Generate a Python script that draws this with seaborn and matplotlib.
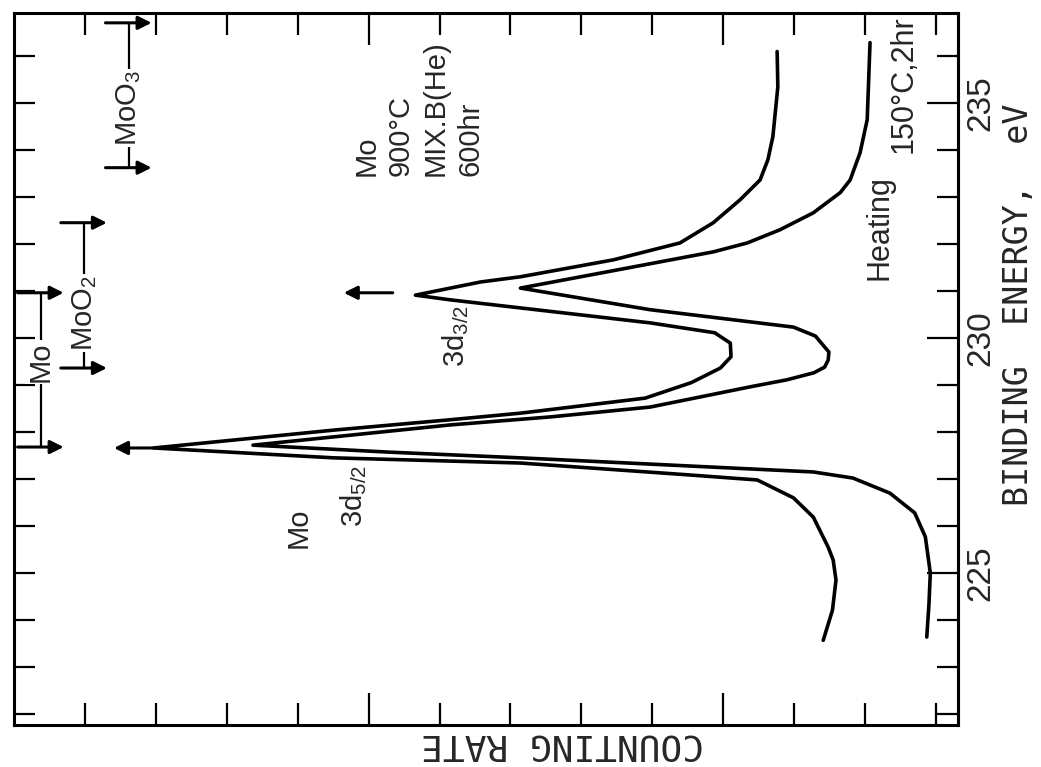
import numpy as np
import matplotlib
matplotlib.use('Agg')
import matplotlib.pyplot as plt
import seaborn as sns

# Mo, 900°C MIX.B(He) 600hr  (binding energy in eV, counting rate in arb. units)
energy_a = [223.57, 224.21, 224.85, 225.28, 225.55, 226.19, 226.60, 226.98, 227.09,
            227.34, 227.45, 227.66, 228.04, 228.26, 228.40, 228.72, 229.05, 229.36,
            229.60, 229.89, 230.11, 230.32, 230.81, 230.91, 231.19, 231.30, 231.66,
            232.02, 232.45, 232.94, 233.36, 233.79, 234.28, 235.34, 236.09]
count_a = [2.59, 2.46, 2.41, 2.45, 2.52, 2.73, 3.01, 3.52, 4.51,
           6.86, 9.49, 12.03, 9.49, 7.85, 6.86, 5.10, 4.45, 4.04,
           3.89, 3.90, 4.12, 5.03, 7.85, 8.34, 7.42, 6.86, 5.55,
           4.61, 4.14, 3.76, 3.48, 3.37, 3.30, 3.23, 3.24]

# Heating 150°C, 2hr
energy_b = [223.64, 224.32, 225.00, 225.77, 226.28, 226.70, 227.02, 227.15, 227.45,
            227.57, 227.72, 228.02, 228.15, 228.32, 228.53, 228.96, 229.11, 229.26,
            229.38, 229.53, 229.70, 230.04, 230.23, 230.60, 231.06, 231.43, 231.83,
            232.02, 232.30, 232.66, 233.09, 233.36, 233.94, 234.64, 236.28]
count_b = [1.13, 1.10, 1.08, 1.15, 1.30, 1.65, 2.17, 2.73, 6.86,
           8.69, 10.63, 8.69, 7.85, 6.44, 5.03, 3.62, 3.10, 2.72,
           2.57, 2.52, 2.51, 2.70, 3.01, 5.03, 6.86, 5.55, 4.14,
           3.66, 3.20, 2.73, 2.35, 2.21, 2.07, 1.97, 1.93]

# reference binding energies (3d5/2, 3d3/2)
ref_names = ['Mo', 'MoO$_2$', 'MoO$_3$']
ref_energies = [[227.68, 230.96], [229.36, 232.45], [233.62, 236.70]]
ref_columns = [13.62, 13.01, 12.38]
ref_label_energy = [229.49, 230.53, 234.89]

energy_ticks = np.arange(222, 237)
energy_major = [225, 230, 235]
count_ticks = np.arange(1, 14)
count_major = [4, 9]

sns.set_style('white')
plt.rcParams['font.family'] = ['Liberation Sans', 'DejaVu Sans']
plt.rcParams['mathtext.fontset'] = 'custom'
plt.rcParams['mathtext.rm'] = 'Liberation Sans'
plt.rcParams['mathtext.it'] = 'Liberation Sans'

fig = plt.figure(figsize=(10.41, 7.67), dpi=100)
ax = fig.add_axes([0.01345, 0.0548, 0.9068, 0.9283])

sns.lineplot(x=count_a, y=energy_a, sort=False, estimator=None,
             color='black', linewidth=2.6, ax=ax)
sns.lineplot(x=count_b, y=energy_b, sort=False, estimator=None,
             color='black', linewidth=2.6, ax=ax)

ax.set_xlim(14.0, 0.69)
ax.set_ylim(221.77, 236.91)

for s in ax.spines.values():
    s.set_linewidth(2.2)
    s.set_color('black')

# counting-rate ticks (top and bottom, no labels)
ax.set_xticks(count_major)
ax.set_xticks([t for t in count_ticks if t not in count_major], minor=True)
ax.tick_params(axis='x', which='both', direction='in', top=True, bottom=True,
               labelbottom=False, width=1.6, color='black')
ax.tick_params(axis='x', which='major', length=23)
ax.tick_params(axis='x', which='minor', length=16)

# energy ticks on the left (no labels)
ax.set_yticks(energy_ticks)
ax.tick_params(axis='y', which='both', direction='in', left=True, right=False,
               labelleft=False, length=15, width=1.6, color='black')

# energy ticks with labels on the right
sec = ax.secondary_yaxis('right')
sec.set_yticks(energy_major)
sec.set_yticks([t for t in energy_ticks if t not in energy_major], minor=True)
sec.spines['right'].set_linewidth(2.2)
sec.tick_params(axis='y', which='both', direction='in', width=1.6, color='black')
sec.tick_params(axis='y', which='major', length=22, labelsize=24, labelrotation=90, pad=5)
sec.tick_params(axis='y', which='minor', length=15)
for lbl in sec.get_yticklabels():
    lbl.set_va('center')

ax.text(1.064, 0.59, 'BINDING  ENERGY,  eV', transform=ax.transAxes,
        fontfamily='DejaVu Sans Mono', fontsize=24, rotation=90,
        ha='center', va='center')

ax.set_xlabel('COUNTING RATE', fontfamily='DejaVu Sans Mono', fontsize=26, rotation=180)
ax.xaxis.set_label_coords(0.5816, -0.028)
ax.xaxis.label.set_va('center')
ax.set_ylabel('')

# reference markers for Mo, MoO2, MoO3
arrow_kw = dict(arrowstyle='-|>', color='black', lw=2.2, mutation_scale=20,
                shrinkA=0, shrinkB=0)
for name, ens, col, lab_e in zip(ref_names, ref_energies, ref_columns, ref_label_energy):
    ax.plot([col, col], ens, color='black', lw=1.6)
    for e in ens:
        ax.annotate('', xy=(col - 0.32, e), xytext=(col + 0.33, e), arrowprops=arrow_kw)
    ax.text(col, lab_e, name, rotation=90, ha='center', va='center', fontsize=21,
            bbox=dict(facecolor='white', edgecolor='none', pad=1))

# peak arrows
ax.annotate('', xy=(12.59, 227.66), xytext=(12.03, 227.66), arrowprops=arrow_kw)
ax.annotate('', xy=(9.35, 230.96), xytext=(8.66, 230.96), arrowprops=arrow_kw)

# text labels
ax.text(9.99, 225.53, 'Mo', rotation=90, ha='center', va='bottom', fontsize=21)
ax.text(9.21, 225.98, '3d$_{5/2}$', rotation=90, ha='center', va='bottom', fontsize=21)
ax.text(7.77, 229.38, '3d$_{3/2}$', rotation=90, ha='center', va='bottom', fontsize=21)
ax.text(8.30, 233.45, 'Mo\n900°C\nMIX.B(He)\n600hr', rotation=90, ha='center',
        va='bottom', multialignment='left', linespacing=1.3, fontsize=21)
ax.text(1.79, 231.23, 'Heating', rotation=90, ha='center', va='bottom', fontsize=22)
ax.text(1.46, 233.94, '150°C,2hr', rotation=90, ha='center', va='bottom', fontsize=22)

fig.savefig('out.png', dpi=100)
